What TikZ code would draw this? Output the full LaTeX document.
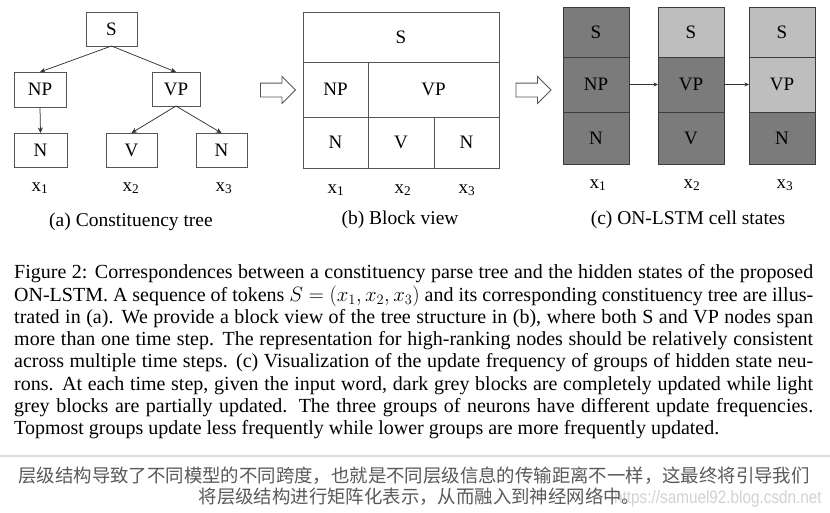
\documentclass[tikz,border=0pt]{standalone}
\usepackage{fontspec}
\setmainfont{Liberation Serif}
\newfontfamily\cjk{Noto Sans CJK SC}
\newfontfamily\wmfont[FakeStretch=0.85]{Liberation Sans}
\usetikzlibrary{arrows.meta, shapes.arrows}
\definecolor{BoxInk}{HTML}{555555}
\definecolor{EdgeInk}{HTML}{333333}
\definecolor{CellDark}{HTML}{7B7B7B}
\definecolor{CellLight}{HTML}{BEBEBE}
\definecolor{CellLine}{HTML}{3C3C3C}
\definecolor{NoteInk}{HTML}{595959}
\definecolor{RuleGrey}{HTML}{DDDDDD}
\definecolor{MarkGrey}{HTML}{D2D2D2}
\newcommand{\tokx}[1]{x\textsubscript{#1}}

\begin{document}
\begin{tikzpicture}[
    x=1pt, y=-1pt,
    lbl/.style={font=\fontsize{19}{22}\selectfont, inner sep=0pt},
    tnode/.style={
      lbl, draw=BoxInk, line width=1pt, outer sep=0pt,
      minimum width=51pt, minimum height=34pt,
    },
    tedge/.style={
      draw=EdgeInk, line width=0.75pt,
      -{Stealth[length=5.5pt, width=5pt]}
    },
    blk/.style={
      lbl, draw=BoxInk, line width=1pt, outer sep=0pt,
    },
    cell/.style={
      lbl, draw=CellLine, line width=0.8pt, outer sep=0pt,
      minimum width=66pt,
    },
    dark/.style={cell, fill=CellDark},
    light/.style={cell, fill=CellLight},
    clink/.style={
      draw=EdgeInk, line width=0.7pt,
      -{Stealth[length=4.5pt, width=4pt]}
    },
    hollow/.style={
      single arrow, draw=BoxInk, line width=0.8pt, fill=white,
      minimum height=35pt, inner sep=0pt,
      single arrow head extend=6.5pt,
    },
    subcap/.style={font=\fontsize{19.5}{22}\selectfont, inner sep=0pt, anchor=base},
    note/.style={font=\cjk\fontsize{18.4}{22}\selectfont, text=NoteInk, inner sep=0pt, anchor=base},
  ]
    \path[fill=white, use as bounding box] (0,0) rectangle (830,512);

    % (a) constituency tree
    \node[tnode] (S) at (111.5,29) {S};
    \node[tnode, minimum width=52pt, minimum height=35pt] (NP) at (40,89.5) {NP};
    \node[tnode, minimum width=48pt] (VP) at (176,89) {VP};
    \node[tnode, minimum width=53pt] (N1) at (40.5,150) {N};
    \node[tnode] (V) at (131.5,150) {V};
    \node[tnode] (N3) at (221.5,150) {N};

    \draw[tedge] (S.south) -- (NP.north);
    \draw[tedge] (S.south) -- (VP.north);
    \draw[tedge] (NP.south) -- (N1.north);
    \draw[tedge] (VP.south) -- (V.north);
    \draw[tedge] (VP.south) -- (N3.north);

    \node[lbl, anchor=base] (ax1) at (40,191) {\tokx{1}};
    \node[lbl, anchor=base] (ax2) at (131,191) {\tokx{2}};
    \node[lbl, anchor=base] (ax3) at (224,191) {\tokx{3}};
    \node[subcap] (capa) at (131,226) {(a) Constituency tree};

    \node[hollow] (ab) at (274.5,90) {\rule{0pt}{13pt}};

    % (b) block view
    \node[blk, minimum width=196pt, minimum height=50pt] (bS) at (401,37) {S};
    \node[blk, minimum width=65pt, minimum height=55pt] (bNP) at (335.5,89.5) {NP};
    \node[blk, minimum width=131pt, minimum height=55pt] (bVP) at (433.5,89.5) {VP};
    \node[blk, minimum width=65pt, minimum height=51pt] (bN1) at (335.5,142.5) {N};
    \node[blk, minimum width=66pt, minimum height=51pt] (bV) at (401,142.5) {V};
    \node[blk, minimum width=65pt, minimum height=51pt] (bN3) at (466.5,142.5) {N};

    \node[lbl, anchor=base] (bx1) at (336,193) {\tokx{1}};
    \node[lbl, anchor=base] (bx2) at (403,193) {\tokx{2}};
    \node[lbl, anchor=base] (bx3) at (467,193) {\tokx{3}};
    \node[subcap] (capb) at (400,224) {(b) Block view};

    \node[hollow] (bc) at (530,90) {\rule{0pt}{13pt}};

    % (c) cell states, one column per token
    \node[dark, minimum height=50pt] (c1t) at (596,32) {S};
    \node[dark, minimum height=55pt] (c1m) at (596,84.5) {NP};
    \node[dark, minimum height=52pt] (c1b) at (596,138) {N};
    \node[light, minimum height=50pt] (c2t) at (691,32) {S};
    \node[dark, minimum height=55pt] (c2m) at (691,84.5) {VP};
    \node[dark, minimum height=52pt] (c2b) at (691,138) {V};
    \node[light, minimum height=50pt] (c3t) at (782,32) {S};
    \node[light, minimum height=55pt] (c3m) at (782,84.5) {VP};
    \node[dark, minimum height=52pt] (c3b) at (782,138) {N};

    \draw[clink] (c1m.east) -- (c2m.west);
    \draw[clink] (c2m.east) -- (c3m.west);

    \node[lbl, anchor=base] (cx1) at (598,188) {\tokx{1}};
    \node[lbl, anchor=base] (cx2) at (692,188) {\tokx{2}};
    \node[lbl, anchor=base] (cx3) at (785,188) {\tokx{3}};
    \node[subcap] (capc) at (688,224) {(c) ON-LSTM cell states};

    % figure caption
    \node[anchor=north west, inner sep=0pt, text width=799pt, align=justify,
      font=\fontsize{20}{22.24}\selectfont] (figcap) at (14,264.6)
      {\tolerance=9999\hyphenpenalty=10000
       Figure 2: Correspondences between a constituency parse tree and the hidden states of the proposed\linebreak
       ON-LSTM. A sequence of tokens $S=(x_1,x_2,x_3)$ and its corresponding constituency tree are illus-\linebreak
       trated in (a). We provide a block view of the tree structure in (b), where both S and VP nodes span\linebreak
       more than one time step. The representation for high-ranking nodes should be relatively consistent\linebreak
       across multiple time steps. (c) Visualization of the update frequency of groups of hidden state neu-\linebreak
       rons. At each time step, given the input word, dark grey blocks are completely updated while light\linebreak
       grey blocks are partially updated. The three groups of neurons have different update frequencies.\linebreak
       Topmost groups update less frequently while lower groups are more frequently updated.};

    % note below the figure
    \draw[RuleGrey, line width=2pt] (0,456) -- (830,456);
    \node[anchor=base west, inner sep=0pt, text=MarkGrey,
      font=\wmfont\fontsize{18}{20}\selectfont] (wm) at (614,503)
      {https://samuel92.blog.csdn.net};
    \node[note] (cn1) at (414,482)
      {层级结构导致了不同模型的不同跨度，也就是不同层级信息的传输距离不一样，这最终将引导我们};
    \node[note] (cn2) at (419.5,503)
      {将层级结构进行矩阵化表示，从而融入到神经网络中。};
\end{tikzpicture}
\end{document}
